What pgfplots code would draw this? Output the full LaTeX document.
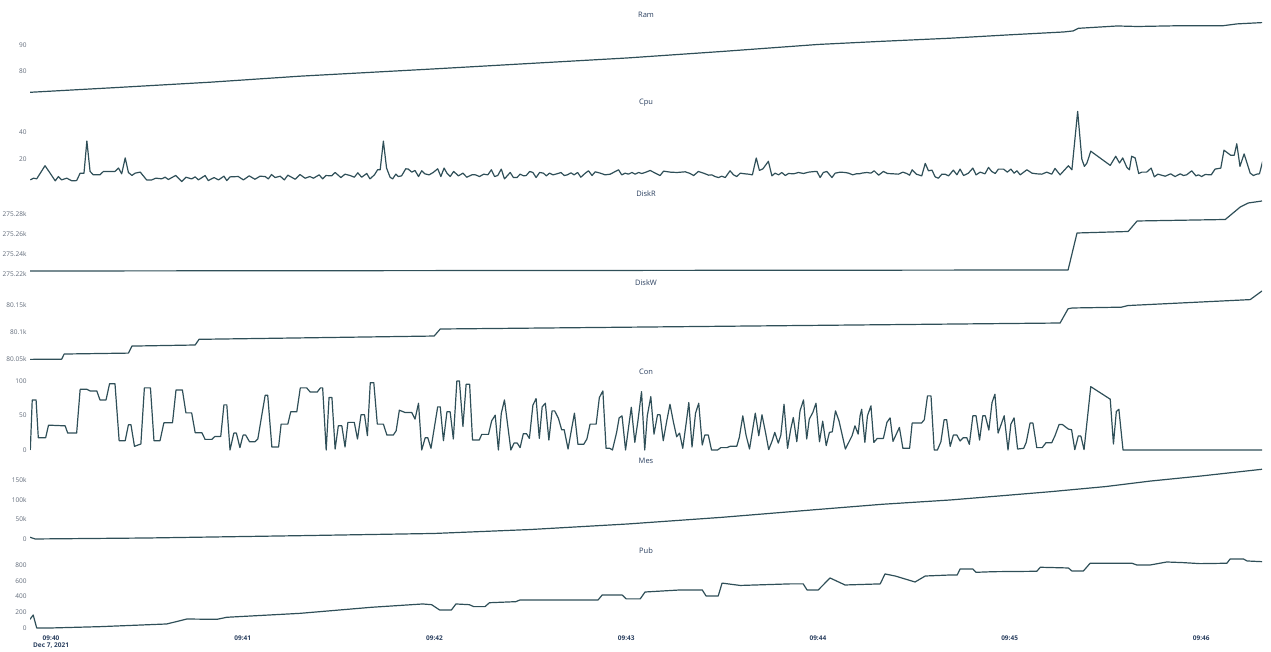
\documentclass[border=0pt]{standalone}
\usepackage{pgfplots}
\pgfplotsset{compat=1.18}
\usepackage{fontspec}
\setmainfont{Open Sans}
\definecolor{linec}{RGB}{47,79,88}
\definecolor{titlec}{RGB}{42,63,95}
\definecolor{tickc}{RGB}{95,105,120}
\pgfplotsset{panel/.style={
  at={(30pt,#1)}, anchor=south west, scale only axis,
  width=1232pt, height=77pt, xmin=-6.6, xmax=379,
  axis lines*=left, axis line style={draw=none}, major tick length=0pt,
  xtick={0,60,120,180,240,300,360}, xticklabels={},
  scaled y ticks=false,
  /pgf/number format/assume math mode=true,
  yticklabel style={font=\fontsize{6.5}{7}\selectfont, text=tickc},
  title style={font=\fontsize{7.5}{8}\selectfont, text=titlec, at={(0.5,1)}, anchor=south, yshift=-7pt},
  every axis plot post/.append style={draw=linec, line width=1.2pt, mark=none, line join=round},
}}
\begin{document}
\begin{tikzpicture}
\useasboundingbox (0,0) rectangle (1271pt,652pt);
% Ram
\begin{axis}[panel=555pt, title={Ram}, ymin=70, ymax=99.6, ytick={80,90}]
\addplot coordinates {(-6.6,71.8) (20,73.6) (50,75.7) (77.9,78.0) (119.9,80.8) (150,82.9) (180.3,85) (210,87.5) (240.1,90.2) (260,91.4) (281.4,92.6) (300,93.9) (317,95.0) (319.9,95.4) (321.5,96.4) (333.7,97.3) (340,97.1) (353.4,97.4) (366.8,97.4) (371.2,98.1) (379,98.6)};
\end{axis}
% Cpu
\begin{axis}[panel=466pt, title={Cpu}, ymin=0, ymax=57, ytick={20,40}]
\addplot coordinates {(-6.5,4.5) (-5.5,5.8) (-4.5,5.3) (-1.9,15) (-0.3,9.5) (1.3,3.8) (2.3,7) (3.3,4.5) (4.9,5.8) (6.5,3.8) (8,4) (9.1,9.5) (10.3,9.5) (11.2,33.3) (12.2,10.8) (13.2,8.3) (15.3,8.3) (16.4,10.8) (20,10.8) (21.1,13.3) (22.1,9) (23.2,20.8) (24.2,10) (25.3,7.8) (26.3,9.5) (27.9,10.3) (29.9,4.5) (31.5,4.5) (32.8,5.8) (34.6,5.3) (35.7,6.5) (36.7,4.8) (39,7.8) (40.9,3.3) (42.2,6.5)
(44.0,5.25) (45.1,6.75) (46.1,4.5) (48.2,7.75) (49.2,4) (51.0,6.25) (52.4,4.5) (54.1,7.25) (55.0,4) (56.0,6.75) (58.6,7) (60.2,4.5) (62.0,7.5) (63.8,5) (65.4,7.25) (67.0,7) (68.0,5.25) (69.0,8.5) (70.1,6.25) (71.7,7.25) (73.0,4.5) (74.1,8) (76.4,5) (77.9,8.5) (79.5,5.75) (81.0,7) (82.1,5.75) (83.9,8.25) (85.0,5.25) (86.0,7.75) (87.8,7.5) (88.9,10) (90.7,6.25) (92.0,8.75) (93.6,7.75) (94.9,6.5) (96.0,9.75) (97.2,6.5) (98.8,9.25) (99.8,5.25) (101.2,8.25) (102.2,12) (103.0,12) (104.0,33.25) (105.0,13.25) (106.1,6.5) (106.9,5.25) (107.9,8.75) (108.7,7) (109.7,7.5) (111.0,12.75) (111.8,12.5) (112.9,10.25) (113.9,11.5) (115.0,7) (116.0,11.25) (117.0,9) (118.3,8.25) (119.6,10) (121.0,12.75) (122.0,7) (123.0,13.25)
(123.9,9.5) (124.9,7) (126.0,10.75) (127.5,7.5) (128.9,9.5) (130.1,6.5) (131.7,8.25) (132.8,8.25) (134.1,7) (135.4,8.75) (136.7,8.25) (137.8,12) (138.8,7) (139.8,7.75) (140.9,12.5) (141.9,5.25) (143.7,10) (144.7,6.25) (145.8,6.25) (146.8,8.75) (147.9,7.5) (148.7,7.75) (149.8,10.75) (150.8,10) (151.8,6.25) (152.9,10) (154.1,9.5) (155.0,7.5) (156.0,9.5) (157.1,8.25) (158.3,9) (159.6,10) (160.6,7.75) (161.6,8.25) (162.7,9.75) (163.7,8.25) (164.8,10) (165.8,6.5) (167.2,9.5) (168.2,11.25) (169.3,7.75) (170.3,10.5) (171.9,9.5) (173.4,8.25) (175.0,8.75) (176.2,10.25) (177.6,12) (178.6,8.25) (179.7,9.5) (180.7,8.75) (181.8,10) (182.8,8.75) (183.9,10) (184.9,9.25) (185.9,10) (187.5,11.5) (189.1,9.5) (190.6,7.75) (191.7,11) (193.8,10.25) (195.9,10) (198.5,10.5) (200.0,9.25) (201.1,7.75) (202.6,10.75) (204.2,9.5) (205.8,8) (206.8,8.25) (207.8,7) (208.9,6.25) (209.9,7.25) (211.0,6.25) (212.5,11.25) (213.6,8.25) (214.6,7) (215.7,9.5) (217.2,9) (218.3,8.75) (219.5,8.25) (220.7,20.75) (221.7,11.5) (222.8,12.75) (224.5,18.25) (225.6,7.5) (226.6,9.5) (227.7,8.25) (228.7,10) (229.8,7.75) (230.8,9.25) (232.4,9) (233.9,10) (235.5,9.25) (237.1,10.25) (239.1,10.75) (239.7,10.75) (240.7,6.25) (241.7,10) (242.8,10.75) (244.4,6.25) (245.4,9.5) (247.0,10.25) (248.5,10) (249.6,9.5) (250.9,8.25) (252.0,9) (253.0,9)
(253.7,9.5) (255.3,10) (256.6,9.5) (257.6,11.25) (259.0,8) (260.5,10.75) (261.8,9.25) (263.7,9) (265.2,8.75) (266.6,10.25) (267.8,9.25) (268.7,8) (269.5,12) (270.8,8.75) (272.5,7.5) (273.6,16.75) (274.6,11.25) (275.7,11.75) (276.7,6.75) (277.7,5.75) (278.8,8.75) (279.8,8.75) (280.9,7.5) (282.4,11.75) (283.5,8.25) (284.5,12.5) (285.6,7.75) (287.1,9.5) (288.5,13.25) (289.5,8.25) (290.8,10.25) (292.3,9) (293.4,13.75) (294.4,10.75) (295.5,9.25) (296.5,12.5) (298.1,12.5) (299.3,10.25) (300.4,12.5) (301.4,9.5) (302.3,11.25) (303.3,8.25) (305.4,12) (307.0,9.5) (308.5,9) (310.1,8.75) (311.6,10.25) (313.2,8.75) (314.2,13) (315.8,8.25) (318.4,15) (319.5,12) (321.3,55.25) (322.6,20) (323.4,14.5) (324.2,17) (325.4,25.75) (331.5,15.25) (333.2,22) (334.4,17) (335.4,20.75) (336.7,13.75) (337.5,12) (338.2,22) (339.3,20.75) (340.4,9.25) (341.4,10.25) (342.9,10.25) (344.3,13.25) (345.3,6.75) (346.4,8.75) (348.7,7.25) (350.4,9) (351.8,7) (353.4,9) (354.4,7.75) (355.4,8.25) (357.0,11.25) (358.3,7.5) (359.1,8.25) (360.1,7) (361.2,8.5) (363.1,8.25) (364.3,12.5) (366.1,13.25) (367.1,26.5) (369.2,22.75) (370.3,22.75) (371.1,31.25) (372.1,14.5) (373.4,23.75) (375.3,9.5) (376.3,7.75) (377.3,8.75) (378.2,9) (379.2,18.25)};
\end{axis}
% DiskR
\begin{axis}[panel=376pt, title={DiskR}, ymin=275218, ymax=275295, ytick={275220,275240,275260,275280}, yticklabels={275.22k,275.24k,275.26k,275.28k}]
\addplot coordinates {(-6.6,275223) (318.3,275224) (321.1,275261) (337.1,275262.5) (339.9,275273) (367.5,275274.5) (372.2,275287) (374.7,275291) (379,275293)};
\end{axis}
% DiskW
\begin{axis}[panel=287pt, title={DiskW}, ymin=80039, ymax=80181.5, ytick={80050,80100,80150}, yticklabels={80.05k,80.1k,80.15k}]
\addplot coordinates {(-6.6,80049.4) (3.3,80049.8) (4.1,80059.3) (24.2,80061) (25.3,80074) (45.1,80076) (46.3,80086.5) (119.9,80092.6) (121.8,80105.6) (315.8,80116.7) (318.3,80143) (319.6,80144.5) (335,80146) (337,80149) (375.3,80160) (379,80176)};
\end{axis}
% Con
\begin{axis}[panel=198pt, title={Con}, ymin=-5.8, ymax=105.8, ytick={0,50,100}]
\addplot coordinates {(-6.5,0) (-5.9,72.6) (-4.7,72.6) (-4.0,17.8) (-1.7,17.8) (-0.8,36) (4.4,35) (5.2,24.5) (8.0,24.5) (9.1,88) (11.2,88) (12.2,85.6) (14.3,85.6) (15.3,72.6) (17.2,72.6) (18.3,96) (20,96) (21.3,13.5) (23.2,13.5) (24.2,36.5) (25,36.5) (26.1,5.3) (28.1,8.7) (29.2,90) (31.1,90) (32.2,13.5) (34.1,13.5) (35.3,39.4) (38,39.4) (39.1,87) (41.1,87) (42.2,53.8) (44,53.8) (45.1,25) (47.2,25) (48.2,15.4) (50.3,15.4) (51.3,19.7) (53.1,19.7) (54.1,65.4) (55,65.4) (56,0) (57.2,24.5) (58,24.5) (59.1,3.4) (60.1,21.6) (60.9,21.6) (62.1,12) (63.8,12) (64.7,15.9) (67,79.3) (67.8,79.3) (69.1,4.3) (71.2,4.3) (72,37.5) (74.1,37.5) (75,55.3) (76.9,55.3) (78,90) (80,90) (81.1,84) (83.3,84) (84.3,90) (85,90) (86.1,0) (87,76) (87.9,76) (88.9,1.4) (89.9,35) (91,35) (92,4.3) (92.9,40) (94.9,40) (95.9,15.9) (97,51) (98.1,51) (99,20.7) (99.9,97.6) (101,97.6) (102.1,37.5) (104,37.5) (105.1,21.6) (107.1,21.6) (108,27.9) (109,57.7) (110.8,54.3) (112.9,54.3) (113.9,44.7) (115,67.8) (116,0) (117.1,17.8) (117.9,17.8) (118.9,2.4) (121,62.5) (121.8,62.5) (122.8,13.5) (123.9,55.3) (124.9,55.3) (125.9,15.9) (127,100) (127.8,100) (128.9,34) (129.9,95.2) (131,95.2) (131.9,14.4) (134,14.4) (134.8,22.6) (136.9,22.6) (137.9,42.3) (139,50.5) (140,0) (140.9,52.9) (141.9,72.6) (143.9,0) (144.9,10) (145.9,10) (146.8,3.4) (147.8,23.6) (148.8,23.6) (149.7,16.8) (150.8,65) (151.8,74.5) (152.8,16.8) (153.7,62.5) (154.7,67.8) (155.8,14.4) (156.8,56.7) (157.6,56.7) (158.8,45.7) (159.8,29.3) (160.6,29.3) (161.8,1.4) (162.9,30.3) (163.8,53.4) (164.9,8.2) (166.7,8.2) (167.7,15.9) (168.7,37.5) (170.6,37.5) (171.6,76) (172.7,85.6) (173.7,2.4) (174.9,2.4) (175.7,0) (177,25.5) (177.8,46.6) (178.7,49.5) (179.8,0) (180.8,35) (181.6,62) (182.7,11) (183.7,43.3) (184.8,84.6) (185.8,0) (186.6,49.5) (187.7,77.4) (188.7,23) (189.8,51) (190.6,51) (191.6,13.5) (192.7,42.3) (193.7,66.3) (194.8,40) (195.8,19.2) (196.7,24.5) (197.7,2.4) (198.8,40) (199.6,68.8) (200.6,4.3) (201.7,53.4) (202.7,67.8) (203.8,7.2) (204.6,21.6) (205.7,21.6) (206.7,0) (208.6,0) (209.6,3.4) (211.5,3.4) (212.5,5.3) (214.6,5.3) (215.4,18.3) (216.5,49.5) (217.5,21.6) (218.6,1.4) (219.6,30.3) (220.4,53.4) (221.5,20.7) (222.5,51) (223.6,25.5) (224.6,0.5) (225.7,13.5) (226.5,25.5) (227.6,10) (228.4,21.6) (229.4,66.3) (230.5,2.4) (231.5,30.3) (232.3,47.1) (233.4,12) (234.4,56.7) (235.5,72.6) (236.5,15.9) (237.3,44.7) (238.4,54.3) (239.4,67.8) (240.5,12) (241.5,41.8) (242.6,6.3) (243.6,25.5) (244.5,26.4) (245.5,56.7) (246.6,42.3) (248.6,1.4) (250.7,20.7) (251.6,35) (252.6,23) (253.2,49.5) (253.7,59) (254.7,11) (255.5,49.5) (256.6,64) (257.5,11) (258.6,16.8) (260.5,16.8) (261.6,40) (262.6,46.6) (263.5,12.5) (265.5,32.7) (266.6,2.4) (268.7,2.4) (269.5,39) (272.4,39) (273.3,43.8) (274.3,78.4) (275.4,78.4) (276.4,0) (277.4,0) (278.5,12) (279.5,43.8) (280.3,43.8) (281.4,5.3) (282.4,21.6) (283.5,21.6) (284.5,13) (285.5,17.8) (286.6,17.8) (287.4,8.2) (288.5,49.5) (289.5,49.5) (290.6,14.4) (291.6,49.5) (292.4,49.5) (293.5,28.8) (294.5,68.8) (295.4,80.8) (296.4,24.5) (298.3,49.5) (299.5,0) (300.4,37.5) (301.4,46.6) (302.5,1.4) (304.4,2.4) (305.2,11) (306.4,39) (307.3,39) (308.5,3.4) (310.2,3.4) (311.4,10.6) (313.2,10.6) (314.2,20.7) (315.5,37) (316.5,37) (318.4,30.3) (319.4,29.3) (320.4,0.5) (321.5,20.2) (322.3,20.2) (323.3,0.5) (325.4,91.8) (331.5,73.6) (332.5,8.7) (333.4,55.8) (334.2,59) (335.5,0) (379.3,0)};
\end{axis}
% Mes
\begin{axis}[panel=109pt, title={Mes}, ymin=-10200, ymax=185300, ytick={0,50000,100000,150000}, yticklabels={0,50k,100k,150k}]
\addplot coordinates {(-6.6,4300) (-5,0) (30,2500) (77.9,8400) (119.9,14000) (150,24000) (180.3,38000) (210,55000) (240.1,75000) (260,88000) (281.4,99000) (300.4,111700) (312.7,120000) (330,133000) (344,147000) (360,160000) (379,177000)};
\end{axis}
% Pub
\begin{axis}[panel=19pt, title={Pub}, ymin=-63.5, ymax=914, ytick={0,200,400,600,800},
  xticklabels={{09:40\\Dec 7, 2021},09:41,09:42,09:43,09:44,09:45,09:46},
  xticklabel style={font=\bfseries\fontsize{6.5}{7.5}\selectfont, text=titlec, align=center, anchor=north, yshift=1pt}]
\addplot coordinates {(-6.6,110) (-5.6,165) (-4.5,0) (-0.3,0) (15.3,17) (36.2,51) (42.5,114) (51.9,110) (55,136) (77.9,186) (100.3,263) (116.3,305) (119.1,296) (121.6,229) (125.3,229) (126.7,305) (130.9,296) (132.3,271) (135.8,271) (137.2,321) (145.4,334) (146.8,356) (171.2,356) (172.5,420) (178.7,420) (180,370) (184.4,370) (185.9,457) (196.9,483) (203.8,483) (205,406) (208.8,406) (210,570) (215.7,540) (231.3,560) (235.4,560) (236.6,483) (240.1,483) (243.8,635) (248.5,546) (259.5,560) (261,686) (264.2,660) (270.4,584) (273.6,660) (281.4,673) (283.6,673) (284.5,749) (288.5,749) (289.5,707) (295,715) (308.5,720) (309.6,771) (318.4,762) (319.5,724) (323.1,724) (325.2,822) (338.3,822) (339.8,800) (344,800) (349.2,838) (354.3,830) (359.6,817) (368,822) (369,876) (373.2,876) (374.3,851) (379,842)};
\end{axis}
\end{tikzpicture}
\end{document}
